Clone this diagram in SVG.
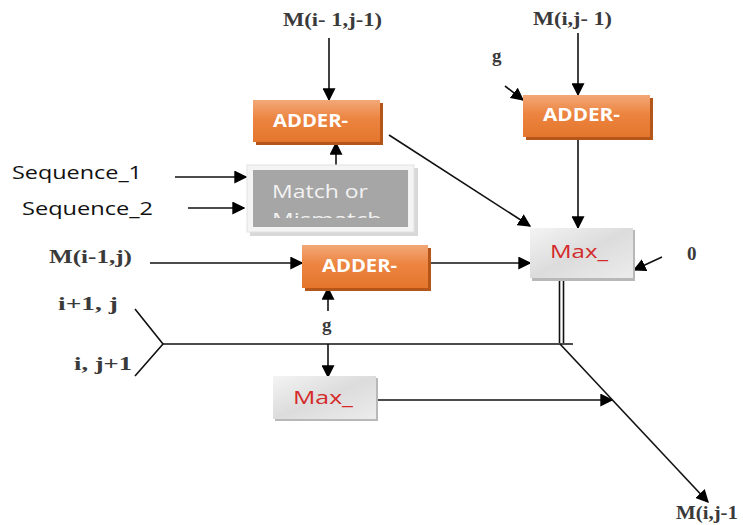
<svg xmlns="http://www.w3.org/2000/svg" width="743" height="525" viewBox="0 0 743 525">
  <defs>
    <linearGradient id="orange" x1="0" y1="0" x2="0" y2="1">
      <stop offset="0" stop-color="#f3a878"/>
      <stop offset="0.45" stop-color="#ec8440"/>
      <stop offset="1" stop-color="#e4762c"/>
    </linearGradient>
    <linearGradient id="silver" x1="0" y1="0" x2="1" y2="1">
      <stop offset="0" stop-color="#f4f4f4"/>
      <stop offset="0.5" stop-color="#dcdcdc"/>
      <stop offset="1" stop-color="#ececec"/>
    </linearGradient>
    <marker id="arrowBig" viewBox="0 0 10 10" refX="9" refY="5" markerWidth="13" markerHeight="13" markerUnits="userSpaceOnUse" orient="auto">
      <path d="M0,0 L10,5 L0,10 z" fill="#000"/>
    </marker>
    <clipPath id="matchClip"><rect x="253" y="170" width="155" height="48"/></clipPath>
  </defs>
  <style>
    .adder { fill: url(#orange); }
    .adder-shadow { fill: #b4561a; }
    .max { fill: url(#silver); }
    .max-shadow { fill: #b8b8b8; }
    .boxlabel { font-family: "Open Sans", "Liberation Sans", sans-serif; font-weight: bold; font-size: 17px; fill: #ffffff; }
    .maxlabel { font-family: "Open Sans", "Liberation Sans", sans-serif; font-size: 18px; fill: #d42a2a; }
    .serif { font-family: "Liberation Serif", "Times New Roman", serif; font-weight: bold; font-size: 19px; fill: #3a3a3a; }
    .sans { font-family: "Open Sans", "Liberation Sans", sans-serif; font-size: 18px; fill: #111; }
    .wire { stroke: #111; stroke-width: 1.6; fill: none; }
    .arrowed { marker-end: url(#arrowBig); }
  </style>

  <!-- connectors -->
  <g id="connectors">
    <line class="wire arrowed" x1="329" y1="38" x2="329" y2="100"/>
    <line class="wire arrowed" x1="578" y1="33" x2="578" y2="95"/>
    <line class="wire arrowed" x1="505" y1="86" x2="523" y2="100"/>
    <line class="wire arrowed" x1="578" y1="137" x2="578" y2="228"/>
    <line class="wire arrowed" x1="389" y1="135" x2="530" y2="226"/>
    <line class="wire arrowed" x1="336" y1="177" x2="336" y2="143"/>
    <line class="wire arrowed" x1="175" y1="177" x2="246" y2="177"/>
    <line class="wire arrowed" x1="188" y1="208" x2="244" y2="208"/>
    <line class="wire arrowed" x1="150" y1="263" x2="302" y2="263"/>
    <line class="wire arrowed" x1="428" y1="263" x2="530" y2="263"/>
    <line class="wire arrowed" x1="662" y1="257" x2="634" y2="270"/>
    <line class="wire arrowed" x1="328" y1="311" x2="328" y2="288"/>
    <!-- double line out of the right Max_ block -->
    <line class="wire" x1="559.5" y1="278" x2="559.5" y2="343" stroke-width="1.2"/>
    <line class="wire" x1="563.5" y1="278" x2="563.5" y2="343" stroke-width="1.2"/>
    <!-- fork and shared horizontal bus -->
    <polyline class="wire" points="135,309 163,344 135,376"/>
    <line class="wire" x1="163" y1="344" x2="573" y2="344"/>
    <line class="wire arrowed" x1="328" y1="344" x2="328" y2="377"/>
    <line class="wire arrowed" x1="376" y1="400" x2="612" y2="400"/>
    <line class="wire arrowed" x1="560" y1="344" x2="708" y2="502"/>
  </g>

  <!-- top-left adder -->
  <g id="adder-top-left">
    <rect class="adder-shadow" x="256" y="103" width="127" height="42"/>
    <rect class="adder" x="253" y="100" width="127" height="42"/>
    <text class="boxlabel" x="273" y="127" textLength="75" lengthAdjust="spacingAndGlyphs">ADDER-</text>
  </g>

  <!-- top-right adder -->
  <g id="adder-top-right">
    <rect class="adder-shadow" x="526" y="98" width="127" height="42"/>
    <rect class="adder" x="523" y="95" width="127" height="42"/>
    <text class="boxlabel" x="543" y="121" textLength="77" lengthAdjust="spacingAndGlyphs">ADDER-</text>
  </g>

  <!-- middle adder -->
  <g id="adder-middle">
    <rect class="adder-shadow" x="305" y="248" width="126" height="43"/>
    <rect class="adder" x="302" y="245" width="126" height="43"/>
    <text class="boxlabel" x="322" y="272" textLength="75" lengthAdjust="spacingAndGlyphs">ADDER-</text>
  </g>

  <!-- match / mismatch comparator -->
  <g id="match">
    <rect x="250" y="168" width="168" height="68" fill="#d8d8d8"/>
    <rect x="247" y="165" width="167" height="67" fill="#f4f4f4" stroke="#e2e2e2"/>
    <rect x="253" y="170" width="155" height="57" fill="#a6a6a6"/>
    <g clip-path="url(#matchClip)">
      <text x="272" y="198" font-family="'Open Sans', 'Liberation Sans', sans-serif" font-size="18" fill="#f2f2f2" textLength="96" lengthAdjust="spacingAndGlyphs">Match or</text>
      <text x="272" y="226" font-family="'Open Sans', 'Liberation Sans', sans-serif" font-size="18" fill="#f2f2f2" textLength="110" lengthAdjust="spacingAndGlyphs">Mismatch</text>
    </g>
  </g>

  <!-- right max block -->
  <g id="max-right">
    <rect class="max-shadow" x="532" y="230" width="103" height="51"/>
    <rect class="max" x="530" y="228" width="103" height="50"/>
    <text class="maxlabel" x="550" y="258" textLength="58" lengthAdjust="spacingAndGlyphs">Max_</text>
  </g>

  <!-- lower max block -->
  <g id="max-bottom">
    <rect class="max-shadow" x="275" y="378" width="103" height="43"/>
    <rect class="max" x="273" y="376" width="103" height="43"/>
    <text class="maxlabel" x="293" y="404" textLength="60" lengthAdjust="spacingAndGlyphs">Max_</text>
  </g>

  <!-- labels -->
  <g id="labels">
    <text class="serif" x="283" y="26" textLength="99" lengthAdjust="spacingAndGlyphs">M(i- 1,j-1)</text>
    <text class="serif" x="533" y="25" textLength="79" lengthAdjust="spacingAndGlyphs">M(i,j- 1)</text>
    <text class="serif" x="492" y="62">g</text>
    <text class="sans" x="12" y="179" textLength="130" lengthAdjust="spacingAndGlyphs">Sequence_1</text>
    <text class="sans" x="22" y="215" textLength="131" lengthAdjust="spacingAndGlyphs">Sequence_2</text>
    <text class="serif" x="49" y="263" textLength="83" lengthAdjust="spacingAndGlyphs">M(i-1,j)</text>
    <text class="serif" x="687" y="260">0</text>
    <text class="serif" x="58" y="310" textLength="60" lengthAdjust="spacingAndGlyphs">i+1, j</text>
    <text class="serif" x="322" y="331">g</text>
    <text class="serif" x="74" y="370" textLength="58" lengthAdjust="spacingAndGlyphs">i, j+1</text>
    <text class="serif" x="676" y="519" textLength="62" lengthAdjust="spacingAndGlyphs">M(i,j-1</text>
  </g>
</svg>
